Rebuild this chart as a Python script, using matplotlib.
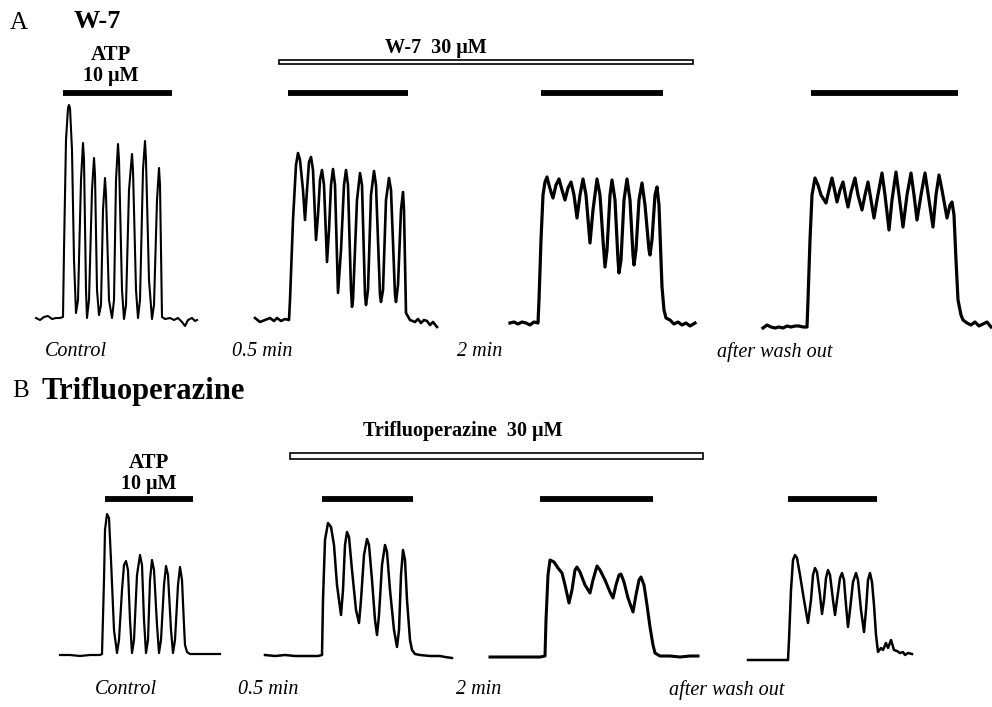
import matplotlib
matplotlib.use("Agg")
import matplotlib.pyplot as plt
from matplotlib.patches import Rectangle

W, H = 992, 707

# ---- traces: time (s from start of each record), signal (a.u. above row zero)
# A: W-7
a1_t = [0, 4, 8, 12, 16, 20, 24, 27, 28, 30, 32, 33, 34, 36, 38, 40, 42,
        45, 47, 48, 50, 51, 53, 56, 58, 59, 61, 63, 65, 67, 69, 70, 73, 76,
        78, 80, 82, 83, 86, 88, 90, 93, 96, 97, 100, 102, 104, 107, 109, 110,
        113, 116, 118, 121, 123, 124, 126, 129, 134, 138, 142, 146, 149, 152,
        156, 159, 161]
a1_y = [12, 10, 13, 14, 11, 12, 12, 13, 80, 190, 222, 225, 222, 180, 70, 17, 30,
        150, 187, 170, 40, 12, 30, 140, 172, 155, 40, 15, 25, 120, 152, 135, 30, 12,
        30, 150, 186, 170, 40, 11, 25, 140, 176, 160, 40, 12, 30, 160, 189, 170,
        50, 11, 25, 130, 162, 145, 13, 11, 12, 10, 12, 8, 4, 10,
        12, 9, 10]

a2_t = [0, 5, 10, 15, 19, 22, 26, 30, 34,
        35, 38, 41, 43, 45, 48, 50, 52, 54, 56, 58, 61, 63, 65, 67, 69, 72, 74,
        76, 78, 80, 83, 86, 89, 91, 93, 96, 97, 98, 102, 105, 107, 110, 111,
        113, 116, 119, 121, 125, 126, 128, 131, 134, 136, 140, 141, 143, 146,
        148, 149, 151, 155,
        160, 163, 166, 169, 172, 175, 178, 182]
a2_y = [12, 8, 10, 12, 9, 12, 9, 11, 10,
        30, 110, 165, 177, 170, 140, 110, 140, 168, 173, 160, 90, 115, 150, 160, 145, 68, 100,
        145, 161, 145, 37, 80, 145, 160, 145, 40, 23, 30, 130, 157, 145, 35, 25,
        40, 135, 159, 145, 35, 28, 40, 130, 152, 140, 35, 28, 45, 120,
        138, 120, 17, 10,
        8, 11, 7, 10, 9, 5, 8, 3]

a3_t = [0, 4, 8, 12, 16, 20, 24, 28,
        29, 31, 33, 35, 37, 39, 41, 43, 46, 49, 52, 55, 58, 61, 64, 67, 70, 73,
        76, 80, 83, 87, 90, 93, 95, 97, 100, 102, 105, 108, 109, 111, 114, 117,
        120, 123, 124, 126, 129, 132, 135, 139, 140, 142, 145, 147, 149, 151,
        152, 154, 156, 160,
        164, 168, 172, 176, 180, 185]
a3_y = [7, 8, 6, 8, 7, 5, 8, 7,
        30, 90, 135, 148, 153, 145, 138, 132, 145, 151, 140, 130, 142, 148, 135, 112, 135, 151,
        135, 87, 120, 151, 135, 90, 63, 80, 135, 150, 130, 70, 57, 70, 130, 151,
        130, 75, 65, 80, 130, 147, 125, 80, 75, 90, 135, 143, 125, 70,
        43, 20, 12, 10,
        6, 8, 5, 7, 4, 7]

a4_t = [0, 4, 8, 12, 16, 20, 24, 28, 32, 36, 40, 44,
        45, 47, 49, 52, 55, 58, 63, 66, 69, 72, 74, 77, 80, 83, 85, 88, 92, 95,
        99, 102, 105, 108, 111, 114, 119, 122, 126, 129, 133, 136, 140, 144,
        148, 151, 154, 158, 162, 166, 170, 173, 176, 179, 184, 187, 189, 191,
        193, 195, 198, 200,
        204, 208, 212, 216, 220, 224, 228]
a4_y = [2, 5, 3, 2, 3, 2, 4, 3, 4, 4, 3, 3,
        30, 90, 135, 152, 145, 135, 127, 140, 152, 138, 128, 140, 148, 132, 123, 138, 152, 135,
        120, 135, 148, 130, 112, 130, 157, 135, 100, 130, 158, 135, 103, 135,
        157, 135, 110, 135, 157, 130, 103, 135, 155, 140, 112, 125, 128, 115,
        70, 30, 15, 10,
        7, 5, 8, 4, 6, 8, 3]

# B: Trifluoperazine
b1_t = [0, 10, 20, 30, 40, 42,
        44, 45, 47, 49, 51, 54, 57, 59, 62, 64, 66, 68, 70, 72, 74, 77, 80, 82,
        84, 86, 88, 90, 92, 94, 97, 99, 101, 104, 106, 108, 111, 113, 115, 118,
        120, 122, 124, 125, 127,
        130, 140, 150, 160]
b1_y = [10, 10, 9, 10, 10, 11,
        85, 135, 151, 147, 105, 35, 12, 25, 75, 100, 104, 95, 45, 12, 25, 90, 110, 100,
        45, 12, 25, 85, 105, 95, 40, 12, 25, 80, 99, 90, 35, 12, 25, 80,
        98, 85, 40, 20, 13,
        11, 11, 11, 11]

b2_t = [0, 10, 20, 30, 40, 47, 53, 57,
        58, 60, 63, 66, 69, 72, 76, 78, 80, 82, 84, 87, 91, 94, 96, 99, 102,
        104, 107, 110, 112, 114, 117, 120, 122, 125, 129, 132, 134, 136, 138,
        140, 142, 145, 147, 150,
        155, 165, 175, 180, 187]
b2_y = [10, 9, 10, 9, 9, 9, 9, 10,
        65, 125, 142, 138, 120, 80, 50, 75, 120, 133, 128, 95, 55, 42, 65, 110, 126,
        120, 85, 45, 30, 50, 100, 120, 113, 75, 35, 18, 35, 90, 115,
        105, 65, 25, 15, 11,
        10, 9, 9, 8, 7]

b3_t = [0, 10, 20, 30, 40, 50, 55,
        56, 58, 60, 64, 68, 72, 75, 79, 82, 85, 87, 90, 95, 100, 103, 107, 110,
        115, 120, 123, 126, 129, 131, 134, 138, 143, 146, 149, 151, 154, 157,
        160, 163, 165,
        170, 180, 190, 200, 208]
b3_y = [8, 8, 8, 8, 8, 8, 9,
        45, 90, 105, 103, 97, 92, 80, 62, 75, 95, 98, 93, 80, 72, 85, 99, 95,
        85, 73, 67, 80, 90, 91, 83, 67, 53, 70, 85, 88, 80, 60,
        38, 20, 12,
        9, 9, 8, 9, 9]

b4_t = [0, 7, 14, 20, 27, 34, 40,
        41, 43, 45, 47, 49, 52, 56, 60, 63, 65, 67, 69, 72, 74, 76, 78, 80, 82,
        85, 87, 89, 92, 94, 96, 98, 100, 102, 105, 108, 110, 113, 116, 118, 120,
        122, 124, 126, 128, 130,
        133, 135, 138, 140, 143, 146, 149, 152, 155, 157, 160, 164]
b4_y = [5, 5, 5, 5, 5, 5, 5,
        25, 75, 105, 110, 107, 90, 65, 42, 65, 90, 97, 93, 70, 51, 65, 87, 95, 90,
        65, 50, 65, 87, 92, 85, 60, 38, 55, 83, 92, 85, 55, 33, 55, 85,
        92, 83, 60, 30, 13,
        17, 15, 22, 17, 25, 15, 14, 12, 13, 10, 12, 11]

# ATP 10 uM application (s from start of each record)
atp_on_a = [27, 33, 31, 48]
atp_off_a = [136, 153, 153, 195]
atp_on_b = [45, 57, 50, 40]
atp_off_b = [133, 148, 163, 129]

cond_labels = ["Control", "0.5 min", "2 min", "after wash out"]

# ---- layout (pixels of the 992x707 figure)
row_a = dict(zero=330, top=0, left=[36, 255, 510, 763], bar=237,
             lw=[1.5, 1.9, 2.3, 2.3], lab_x=[45, 232, 457, 717], lab_y=352,
             drug=(279, 693, 60, 64), drug_txt=(436, 48), atp_x=111, atp_y=(55, 76))
row_b = dict(zero=665, top=380, left=[60, 265, 490, 748], bar=166,
             lw=[1.6, 1.8, 2.2, 1.8], lab_x=[95, 238, 456, 669], lab_y=690,
             drug=(290, 703, 453, 459), drug_txt=(463, 431), atp_x=149, atp_y=(463, 484))

plt.rcParams['font.family'] = ['Liberation Serif', 'DejaVu Serif']
fig = plt.figure(figsize=(W / 100, H / 100), dpi=100)


def ftext(x, y, s, **kw):
    fig.text(x / W, 1 - y / H, s, **kw)


def trace_axes(x0, span, top, zero):
    ax = fig.add_axes([x0 / W, 1 - zero / H, span / W, (zero - top) / H])
    ax.set_xlim(0, span)
    ax.set_ylim(0, zero - top)
    ax.axis('off')
    return ax


def draw_row(row, traces, on, off, drug_name):
    for i, (t, y) in enumerate(traces):
        ax = trace_axes(row['left'][i], t[-1], row['top'], row['zero'])
        ax.plot(t, y, color='black', lw=row['lw'][i], solid_joinstyle='round', clip_on=False)
        ax.plot([on[i], off[i]], [row['bar'], row['bar']], color='black', lw=4.2,
                solid_capstyle='butt', clip_on=False)
        ftext(row['lab_x'][i], row['lab_y'], cond_labels[i], fontsize=14.5,
              fontstyle='italic', ha='left', va='center')
    x1, x2, y1, y2 = row['drug']
    fig.add_artist(Rectangle((x1 / W, 1 - y2 / H), (x2 - x1) / W, (y2 - y1) / H,
                             transform=fig.transFigure, facecolor='white',
                             edgecolor='black', lw=1.2))
    ftext(row['drug_txt'][0], row['drug_txt'][1], drug_name + "  30 \u03bcM",
          fontsize=14.5, fontweight='bold', ha='center', va='center')
    ftext(row['atp_x'], row['atp_y'][0], "ATP", fontsize=15, fontweight='bold',
          ha='center', va='center')
    ftext(row['atp_x'], row['atp_y'][1], "10 \u03bcM", fontsize=14.5, fontweight='bold',
          ha='center', va='center')


draw_row(row_a, [(a1_t, a1_y), (a2_t, a2_y), (a3_t, a3_y), (a4_t, a4_y)],
         atp_on_a, atp_off_a, "W-7")
draw_row(row_b, [(b1_t, b1_y), (b2_t, b2_y), (b3_t, b3_y), (b4_t, b4_y)],
         atp_on_b, atp_off_b, "Trifluoperazine")

ftext(10, 23, "A", fontsize=18, ha='left', va='center')
ftext(74, 22, "W-7", fontsize=19, fontweight='bold', ha='left', va='center')
ftext(12, 391, "B", fontsize=18, ha='left', va='center')
ftext(42, 391, "Trifluoperazine", fontsize=22, fontweight='bold', ha='left', va='center')

fig.savefig("out.png", dpi=100)
